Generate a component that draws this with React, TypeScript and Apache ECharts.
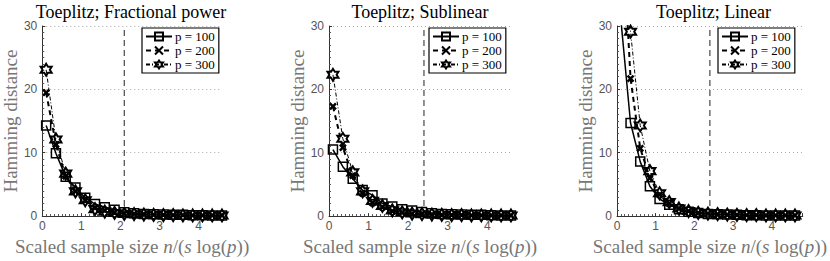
import React, { useEffect, useRef } from "react";
import * as echarts from "echarts";

const TITLES = ["Toeplitz; Fractional power", "Toeplitz; Sublinear", "Toeplitz; Linear"];
const SERIES_NAMES = ["p = 100", "p = 200", "p = 300"];
const X_VALUES = [0.1, 0.35, 0.6, 0.85, 1.1, 1.35, 1.6, 1.85, 2.1, 2.35, 2.6, 2.85, 3.1, 3.35, 3.6, 3.85, 4.1, 4.35, 4.6];

const FRAC_P100 = [14.3, 9.9, 6.2, 4.5, 2.9, 1.9, 1.4, 1.0, 0.6, 0.45, 0.35, 0.3, 0.25, 0.2, 0.2, 0.15, 0.15, 0.1, 0.1];
const FRAC_P200 = [19.5, 11.3, 6.3, 3.9, 2.5, 1.3, 0.9, 0.6, 0.4, 0.35, 0.3, 0.25, 0.2, 0.15, 0.15, 0.1, 0.1, 0.1, 0.1];
const FRAC_P300 = [23.1, 12.1, 6.7, 3.9, 2.5, 1.1, 0.7, 0.5, 0.35, 0.3, 0.25, 0.2, 0.15, 0.15, 0.1, 0.1, 0.1, 0.1, 0.1];

const SUB_P100 = [10.5, 7.8, 5.9, 4.1, 3.3, 2.0, 1.5, 1.1, 0.9, 0.65, 0.45, 0.35, 0.3, 0.25, 0.2, 0.2, 0.15, 0.1, 0.1];
const SUB_P200 = [17.3, 10.8, 6.4, 3.6, 2.1, 1.4, 0.8, 0.6, 0.4, 0.3, 0.25, 0.2, 0.15, 0.15, 0.1, 0.1, 0.1, 0.1, 0.1];
const SUB_P300 = [22.3, 12.2, 6.9, 3.9, 2.4, 1.6, 0.9, 0.6, 0.4, 0.3, 0.25, 0.2, 0.15, 0.15, 0.1, 0.1, 0.1, 0.1, 0.1];

const LIN_P100 = [31, 14.7, 8.6, 4.7, 2.7, 1.8, 1.1, 0.7, 0.5, 0.35, 0.3, 0.25, 0.2, 0.15, 0.15, 0.1, 0.1, 0.1, 0.1];
const LIN_P200 = [50, 21.7, 10.7, 6.0, 3.4, 2.0, 1.2, 0.8, 0.5, 0.4, 0.3, 0.25, 0.2, 0.15, 0.15, 0.1, 0.1, 0.1, 0.1];
const LIN_P300 = [60, 29.1, 14.3, 7.1, 3.6, 2.2, 1.2, 0.8, 0.5, 0.4, 0.3, 0.25, 0.2, 0.15, 0.15, 0.1, 0.1, 0.1, 0.1];

const PANEL_DATA = [
  [FRAC_P100, FRAC_P200, FRAC_P300],
  [SUB_P100, SUB_P200, SUB_P300],
  [LIN_P100, LIN_P200, LIN_P300],
];
const THRESHOLDS = [2.1, 2.4, 2.4];
const X_MAX = [4.6, 4.6, 4.8];
const Y_TICKS = [0, 10, 20, 30];

const GRIDS = [
  { left: 40, top: 26, width: 182, height: 196 },
  { left: 329, top: 26, width: 182, height: 196 },
  { left: 617, top: 26, width: 193, height: 196 },
];
const LEGEND_POS = [
  { left: 142, top: 28 },
  { left: 429, top: 28 },
  { left: 718, top: 28 },
];

const SQUARE = "rect";
const CROSS = "path://M0,0 L10,10 M10,0 L0,10";
const HEXAGRAM =
  "path://M10,0 L12.887,5 L18.66,5 L15.774,10 L18.66,15 L12.887,15 L10,20 L7.113,15 L1.34,15 L4.226,10 L1.34,5 L7.113,5 Z";

const SERIF = "Liberation Serif";
const SANS = "Liberation Sans";

export default function App() {
  const ref = useRef<HTMLDivElement>(null);
  useEffect(() => {
    if (!ref.current) return;
    const chart = echarts.init(ref.current, null, { renderer: "svg" });

    const styles = [
      {
        symbol: SQUARE,
        symbolSize: 9,
        lineStyle: { color: "#000", width: 1.5, type: "solid" as const },
        itemStyle: { color: "rgba(255,255,255,0)", borderColor: "#000", borderWidth: 1.5 },
      },
      {
        symbol: CROSS,
        symbolSize: 6,
        lineStyle: { color: "#000", width: 2, type: [5, 4] as any },
        itemStyle: { color: "rgba(255,255,255,0)", borderColor: "#000", borderWidth: 2.5 },
      },
      {
        symbol: HEXAGRAM,
        symbolSize: [11, 12],
        lineStyle: { color: "#000", width: 1, type: [4, 2, 1, 2] as any },
        itemStyle: { color: "rgba(255,255,255,0)", borderColor: "#000", borderWidth: 2 },
      },
    ];

    const series: any[] = [];
    PANEL_DATA.forEach((panel, gi) => {
      series.push({
        type: "line",
        name: "threshold" + gi,
        xAxisIndex: gi,
        yAxisIndex: gi,
        data: [
          [THRESHOLDS[gi], Y_TICKS[0]],
          [THRESHOLDS[gi], Y_TICKS[Y_TICKS.length - 1]],
        ],
        symbol: "none",
        silent: true,
        lineStyle: { color: "#555", width: 1.3, type: [6, 4] },
        z: 1,
      });
      panel.forEach((vals, si) => {
        series.push({
          type: "line",
          name: SERIES_NAMES[si],
          xAxisIndex: gi,
          yAxisIndex: gi,
          data: X_VALUES.map((x, i) => [x, vals[i]]),
          clip: true,
          showSymbol: true,
          showAllSymbol: true,
          ...styles[si],
          z: 3 + si,
        });
      });
    });

    const option: any = {
      animation: false,
      backgroundColor: "#fff",
      graphic: TITLES.map((t, i) => ({
        type: "text",
        x: GRIDS[i].left + GRIDS[i].width / 2,
        y: 3,
        silent: true,
        style: {
          text: t,
          fontFamily: SERIF,
          fontSize: 18,
          fontWeight: "normal",
          fill: "#000",
          align: "center",
          verticalAlign: "top",
        },
      })),
      grid: GRIDS.map((g) => ({ ...g, containLabel: false })),
      legend: LEGEND_POS.map((p) => ({
        data: SERIES_NAMES,
        orient: "vertical",
        left: p.left,
        top: p.top,
        itemWidth: 26,
        itemHeight: 10,
        itemGap: 1,
        padding: [2, 4, 2, 3],
        borderColor: "#000",
        borderWidth: 1.2,
        backgroundColor: "#fff",
        selectedMode: false,
        textStyle: { fontFamily: SERIF, fontSize: 13, color: "#000", padding: [0, 0, 0, -2] },
      })),
      xAxis: GRIDS.map((_, i) => ({
        type: "value",
        gridIndex: i,
        min: 0,
        max: X_MAX[i],
        interval: 1,
        name: "Scaled sample size {i|n}/({i|s} log({i|p}))",
        nameLocation: "middle",
        nameGap: 19,
        nameTextStyle: {
          fontFamily: SERIF,
          fontSize: 19,
          color: "#777",
          rich: { i: { fontFamily: SERIF, fontSize: 19, fontStyle: "italic", color: "#777" } },
        },
        axisLine: { show: true, lineStyle: { color: "#333", width: 1 } },
        axisTick: { show: true, inside: true, length: 3, lineStyle: { color: "#333" } },
        minorTick: { show: true, splitNumber: 10, length: 2, lineStyle: { color: "#555" } },
        axisLabel: {
          fontFamily: SANS,
          fontSize: 12,
          color: "#555",
          margin: 4,
          formatter: (v: number) => (Number.isInteger(v) ? String(v) : ""),
        },
        splitLine: { show: false },
      })),
      yAxis: GRIDS.map((_, i) => ({
        type: "value",
        gridIndex: i,
        min: Y_TICKS[0],
        max: Y_TICKS[Y_TICKS.length - 1],
        interval: Y_TICKS[1] - Y_TICKS[0],
        name: "Hamming distance",
        nameLocation: "middle",
        nameGap: 17,
        nameTextStyle: { fontFamily: SERIF, fontSize: 19, color: "#777" },
        axisLine: { show: true, lineStyle: { color: "#333", width: 1 } },
        axisTick: { show: true, inside: true, length: 3, lineStyle: { color: "#333" } },
        minorTick: { show: true, splitNumber: 10, length: 2, lineStyle: { color: "#555" } },
        axisLabel: { fontFamily: SANS, fontSize: 12, color: "#555", margin: 5 },
        splitLine: { show: true, lineStyle: { color: "#aaa", type: [1, 3], width: 1 } },
      })),
      series,
    };
    chart.setOption(option);
    return () => chart.dispose();
  }, []);
  return (
    <div
      ref={ref}
      style={{ position: "fixed", left: 0, top: 0, width: 830, height: 261, background: "#fff" }}
    />
  );
}
